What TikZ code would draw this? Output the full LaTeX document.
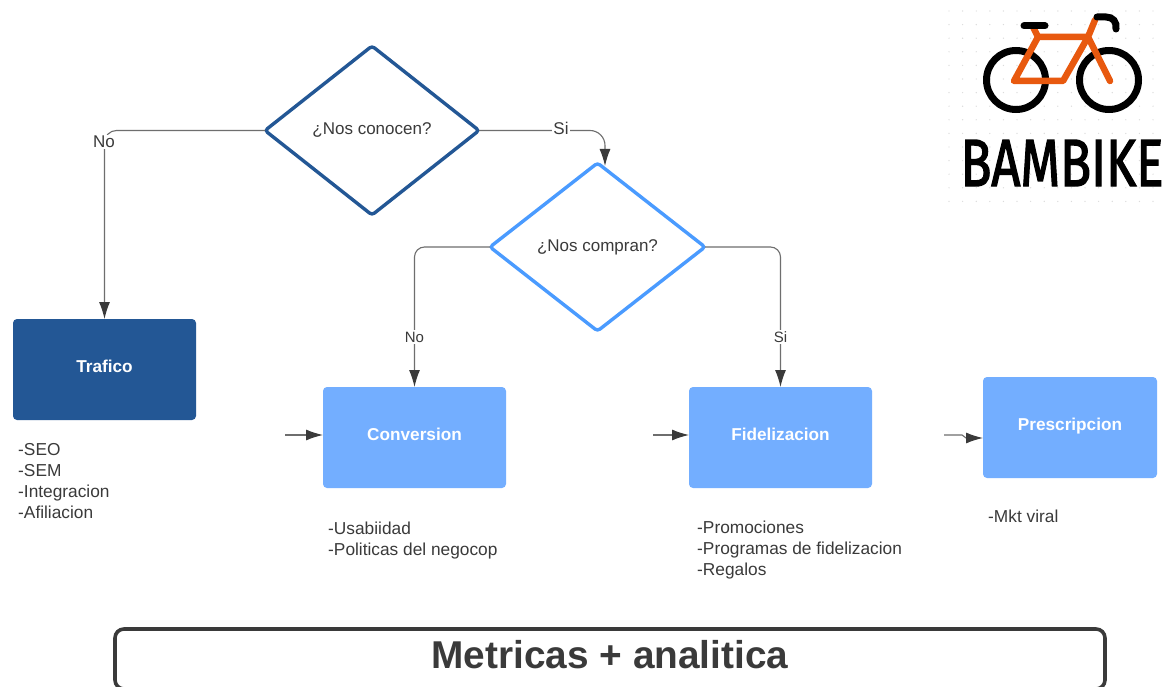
\documentclass[tikz,border=0pt]{standalone}
\usepackage{fontspec}
\setmainfont{Liberation Sans}
\newfontfamily\logofont[FakeBold=2.2]{Fira Sans}
\usetikzlibrary{shapes.geometric,arrows.meta}
\definecolor{navy}{HTML}{235795}
\definecolor{sky}{HTML}{73AEFF}
\definecolor{skyline}{HTML}{4A9BFF}
\definecolor{ink}{HTML}{3A3A3A}
\definecolor{wire}{HTML}{6E6E6E}
\definecolor{bikeorange}{HTML}{E8590F}
\tikzset{
  x=1pt,y=-1pt,
  every node/.style={font=\fontsize{17.3}{21}\selectfont,text=ink},
  decision/.style={diamond,aspect=1.27,inner sep=0pt,outer sep=0pt,line width=3.4pt,rounded corners=3pt,fill=white,font=\fontsize{17}{21}\selectfont},
  stage/.style={rectangle,minimum width=183pt,minimum height=101pt,inner sep=0pt,outer sep=0pt,rounded corners=4pt,text=white,text height=12pt,text depth=7pt,font=\bfseries\fontsize{17.2}{21}\selectfont},
  notes/.style={anchor=north west,align=left,inner sep=0pt},
  link/.style={draw=wire,line width=1.1pt,-{Latex[length=17pt,width=11pt,color=ink]}},
  lab/.style={fill=white,inner sep=1.5pt,font=\fontsize{17}{21}\selectfont},
  smalllab/.style={fill=white,inner sep=1.5pt,font=\fontsize{15}{18}\selectfont},
  frame/.style={draw=bikeorange,line width=6.5pt,line cap=round,line join=round},
  tyre/.style={draw=black,line width=7pt},
  bar/.style={draw=black,line width=7pt,line cap=round}
}
\begin{document}
\begin{tikzpicture}
\useasboundingbox (0,0) rectangle (1164,687);
\fill[white] (0,0) rectangle (1164,687);
% logo dots
\foreach \i in {0,...,15}{\foreach \j in {0,...,14}{
  \fill[black!14] (949+13.6*\i,11+13.6*\j) circle (0.7pt);}}
\draw[tyre] (1016,80) circle (29.5);
\draw[tyre] (1109,80) circle (29.5);
\draw[frame] (1014,81) -- (1063,81) -- (1088,37) -- (1038,37) -- cycle;
\draw[frame] (1038,37) -- (1033,27);
\draw[frame] (1095,20) -- (1088,37) -- (1110,81);
\draw[bar] (1024,26) -- (1045,26);
\draw[bar] (1097,17) -- (1106,17) .. controls (1113,17) and (1117,22) .. (1116,29);
\node[text=black,inner sep=0pt] (logo) at (1062,163) {\resizebox{203pt}{46pt}{\logofont\fontsize{50}{50}\selectfont BAMBIKE}};
% decisions
\node[decision,draw=navy,minimum width=214pt,minimum height=169pt] (conocen) at (372,130.5) {¿Nos conocen?};
\node[decision,draw=skyline,minimum width=215pt,minimum height=168pt] (compran) at (597.5,247) {¿Nos compran?};
% stages
\node[stage,fill=navy] (trafico) at (104.5,369.5) {Trafico};
\node[stage,fill=sky] (conversion) at (414.5,437.5) {Conversion};
\node[stage,fill=sky] (fidel) at (780.5,437.5) {Fidelizacion};
\node[stage,fill=sky,minimum width=174pt] (prescr) at (1070,427.5) {Prescripcion};
% connectors
\coordinate (siend) at (605,166);
\coordinate (conin) at (285,435);
\coordinate (fidin) at (653,435);
\coordinate (prein) at (944,435);
\coordinate (prekink) at (962,435);
\coordinate (prekinkb) at (966,438);
\draw[link,rounded corners=12pt] (conocen.west) -- (conocen.west -| trafico.north) -- (trafico.north);
\node[lab] (nolab) at (104,142) {No};
\draw[link,rounded corners=15pt] (conocen.east) -- (conocen.east -| siend) -- (siend);
\node[lab] (silab) at (561,128) {Si};
\draw[link,rounded corners=10pt] (compran.west) -- (compran.west -| conversion.north) -- (conversion.north);
\node[smalllab] (nolabb) at (414.5,337) {No};
\draw[link,rounded corners=10pt] (compran.east) -- (compran.east -| fidel.north) -- (fidel.north);
\node[smalllab] (silabb) at (780.5,337) {Si};
\draw[link] (conin) -- (conin -| conversion.west);
\draw[link] (fidin) -- (fidin -| fidel.west);
\draw[link] (prein) -- (prekink) -- (prekinkb) -- (prekinkb -| prescr.west);
% notes
\node[notes] (ntraf) at (18,443) {-SEO\\-SEM\\-Integracion\\-Afiliacion};
\node[notes] (nconv) at (328,522) {-Usabiidad\\-Politicas del negocop};
\node[notes] (nfid) at (697,521) {-Promociones\\-Programas de fidelizacion\\-Regalos};
\node[notes] (npre) at (988,510) {-Mkt viral};
% bottom bar
\node[draw=ink,line width=3.6pt,rounded corners=9pt,minimum width=990pt,minimum height=60pt,inner sep=0pt,outer sep=0pt,fill=white] (metric) at (610,659) {};
\node[inner sep=0pt,font=\bfseries\fontsize{38.8}{39}\selectfont] (metrictext) at (610,655) {Metricas + analitica};
\end{tikzpicture}
\end{document}
